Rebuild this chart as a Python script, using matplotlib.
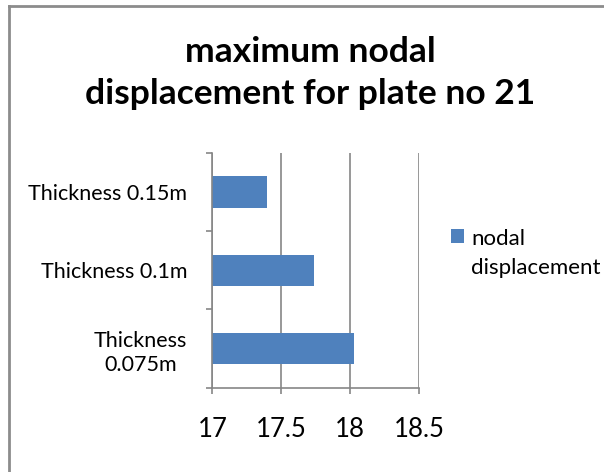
import matplotlib
matplotlib.use("Agg")
import matplotlib.pyplot as plt
from matplotlib.lines import Line2D
import numpy as np

categories = ["Thickness\n0.075m", "Thickness 0.1m", "Thickness 0.15m"]
values = [18.03, 17.74, 17.40]
series_name = "nodal\ndisplacement"
xticks = [17, 17.5, 18, 18.5]

plt.rcParams['font.family'] = ['Lato', 'DejaVu Sans']

W, H = 604, 472
fig = plt.figure(figsize=(W / 100, H / 100), dpi=100)

# outer chart border, only top and left edges are visible
bx, by = 9 / W, 1 - 6 / H
fig.add_artist(Line2D([bx, bx], [-0.1, by], transform=fig.transFigure, color="#8c8c8c", lw=2))
fig.add_artist(Line2D([bx, 1.1], [by, by], transform=fig.transFigure, color="#8c8c8c", lw=2))

ax = fig.add_axes([212.3 / W, 1 - 387.7 / H, (419 - 212.3) / W, (387.7 - 153) / H])

y = np.arange(len(categories))
ax.barh(y, np.array(values) - 17, left=17, height=0.4, color="#4F81BD", label=series_name)

ax.set_xlim(17, 18.5)
ax.set_ylim(-0.5, len(categories) - 0.5)
ax.set_xticks(xticks)
ax.set_xticklabels(["17", "17.5", "18", "18.5"], fontsize=18.5)
ax.set_yticks(y)
ax.set_yticklabels(categories, fontsize=15.5, linespacing=1.3, multialignment="center")
ax.set_yticks(np.arange(len(categories) + 1) - 0.5, minor=True)

ax.tick_params(axis="y", which="major", length=0, pad=18)
ax.tick_params(axis="y", which="minor", length=4, width=1.2, color="#868686", direction="out")
ax.tick_params(axis="x", length=4, width=1.2, color="#868686", direction="out", pad=17)

ax.grid(axis="x", color="#868686", linewidth=1.2)
ax.set_axisbelow(True)
for s in ["top", "right"]:
    ax.spines[s].set_visible(False)
for s in ["left", "bottom"]:
    ax.spines[s].set_color("#868686")
    ax.spines[s].set_linewidth(1.2)

fig.text(310 / W, 1 - 73 / H, "maximum nodal\ndisplacement for plate no 21", ha="center", va="center",
         fontsize=25.5, fontweight="bold", linespacing=1.38)

leg = ax.legend(loc="upper left", bbox_to_anchor=(451 / W, 1 - 229 / H), bbox_transform=fig.transFigure,
                frameon=False, fontsize=16, handlelength=0.6, handleheight=0.6, handletextpad=0.3,
                borderaxespad=0, borderpad=0)
leg.get_texts()[0].set_linespacing(1.55)
# put the square next to the first line of the label
for col in leg._legend_handle_box.get_children():
    for row in col.get_children():
        row.align = "top"

fig.savefig("out.png", dpi=100)
